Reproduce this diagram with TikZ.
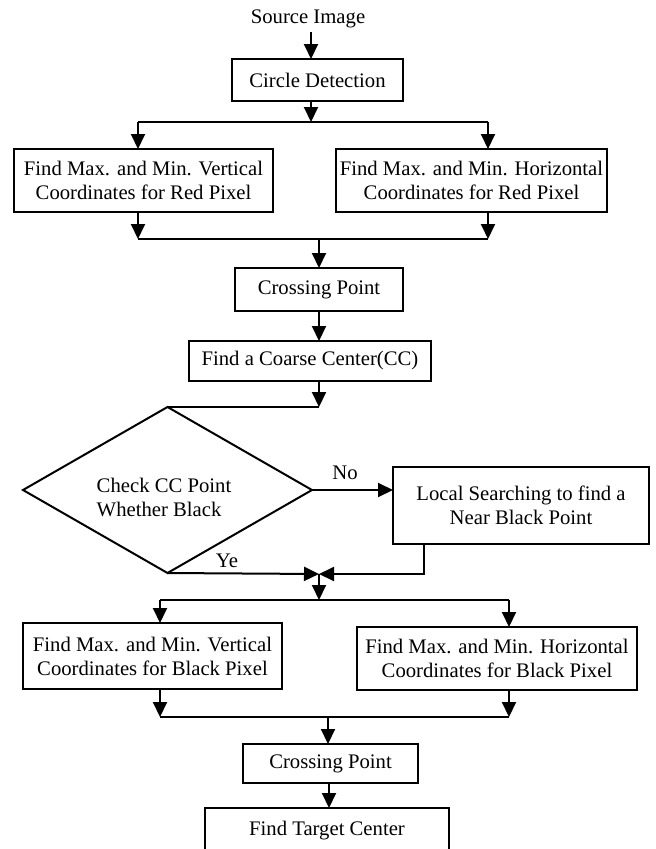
\documentclass[tikz,border=0pt]{standalone}
\usepackage{fontspec}
\setmainfont{Liberation Serif}
\usetikzlibrary{arrows.meta,shapes.geometric}
\begin{document}
\begin{tikzpicture}[x=1pt,y=-1pt,
  line width=2pt,
  every node/.style={font=\fontsize{20.7}{24}\selectfont},
  box/.style={draw, rectangle, inner sep=0pt, outer sep=0pt, align=center},
  arr/.style={-{Triangle[length=15pt,width=14pt]}}]
\useasboundingbox (0,0) rectangle (656,849);
\clip (0,0) rectangle (656,849);

% ---------- first stage: red pixels ----------
\node (src) at (308,19) {Source Image};
\node[box, minimum width=171pt, minimum height=42pt] (cd) at (317.5,80) {Circle Detection};
\coordinate (a0) at (311,0);
\draw[arr] (src.south -| a0) -- (a0 |- cd.north);

\node[box, minimum width=259pt, minimum height=63pt] (rv) at (143.5,180.5)
  {Find Max. and Min. Vertical\\Coordinates for Red Pixel};
\node[box, minimum width=271pt, minimum height=63pt] (rh) at (471.5,180.5)
  {Find Max. and Min. Horizontal\\Coordinates for Red Pixel};

\coordinate (s1) at (311,122);
\coordinate (s1l) at (138,122);
\coordinate (s1r) at (488,122);
\draw[arr] (cd.south -| s1) -- (s1);
\draw (s1l) -- (s1r);
\draw[arr] (s1l) -- (s1l |- rv.north);
\draw[arr] (s1r) -- (s1r |- rh.north);

\node[box, minimum width=168pt, minimum height=43pt] (cp1) at (319,289.5) {Crossing Point};
\coordinate (j1) at (319,239);
\coordinate (j1l) at (138,239);
\coordinate (j1r) at (488,239);
\draw[arr] (rv.south -| j1l) -- (j1l);
\draw[arr] (rh.south -| j1r) -- (j1r);
\draw (j1l) -- (j1r);
\draw[arr] (j1) -- (j1 |- cp1.north);

\node[box, minimum width=242pt, minimum height=40pt] (cc) at (310,361) {Find a Coarse Center(CC)};
\draw[arr] (cp1.south) -- (cp1.south |- cc.north);

% ---------- decision ----------
\node[draw, diamond, inner sep=0pt, outer sep=0pt, minimum width=289pt, minimum height=166pt]
  (chk) at (167.5,490) {};
\node[align=left] (chkt) at (164,497) {Check CC Point\\Whether Black};

\coordinate (d1) at (319,407);
\draw[arr] (cc.south -| d1) -- (d1);
\draw (d1) -- (chk.north);

\node[box, minimum width=256pt, minimum height=77pt] (ls) at (521,505.5)
  {Local Searching to find a\\Near Black Point};
\draw[arr] (chk.east) -- (chk.east -| ls.west);
\node (no) at (345,473) {No};

\coordinate (m) at (319,574);
\coordinate (lsb) at (424,574);
\draw[arr] (chk.south) -- (m);
\node (ye) at (227,561) {Ye};
\draw[arr] (ls.south -| lsb) -- (lsb) -- (m);

% ---------- second stage: black pixels ----------
\node[box, minimum width=259pt, minimum height=66pt] (bv) at (152.5,656)
  {Find Max. and Min. Vertical\\Coordinates for Black Pixel};
\node[box, minimum width=280pt, minimum height=63pt] (bh) at (497,658.5)
  {Find Max. and Min. Horizontal\\Coordinates for Black Pixel};

\coordinate (s2) at (319,600);
\coordinate (s2l) at (160,600);
\coordinate (s2r) at (509,600);
\draw[arr] (m) -- (s2);
\draw (s2l) -- (s2r);
\draw[arr] (s2l) -- (s2l |- bv.north);
\draw[arr] (s2r) -- (s2r |- bh.north);

\node[box, minimum width=175pt, minimum height=39pt] (cp2) at (330.5,763.5) {Crossing Point};
\coordinate (j2) at (328,717);
\coordinate (j2l) at (160,717);
\coordinate (j2r) at (509,717);
\draw[arr] (bv.south -| j2l) -- (j2l);
\draw[arr] (bh.south -| j2r) -- (j2r);
\draw (j2l) -- (j2r);
\draw[arr] (j2) -- (j2 |- cp2.north);

\node[box, anchor=north, minimum width=244pt, text height=27pt, text depth=35pt]
  (tc) at (327,808) {Find Target Center};
\coordinate (a1) at (329,0);
\draw[arr] (cp2.south -| a1) -- (a1 |- tc.north);
\end{tikzpicture}
\end{document}
